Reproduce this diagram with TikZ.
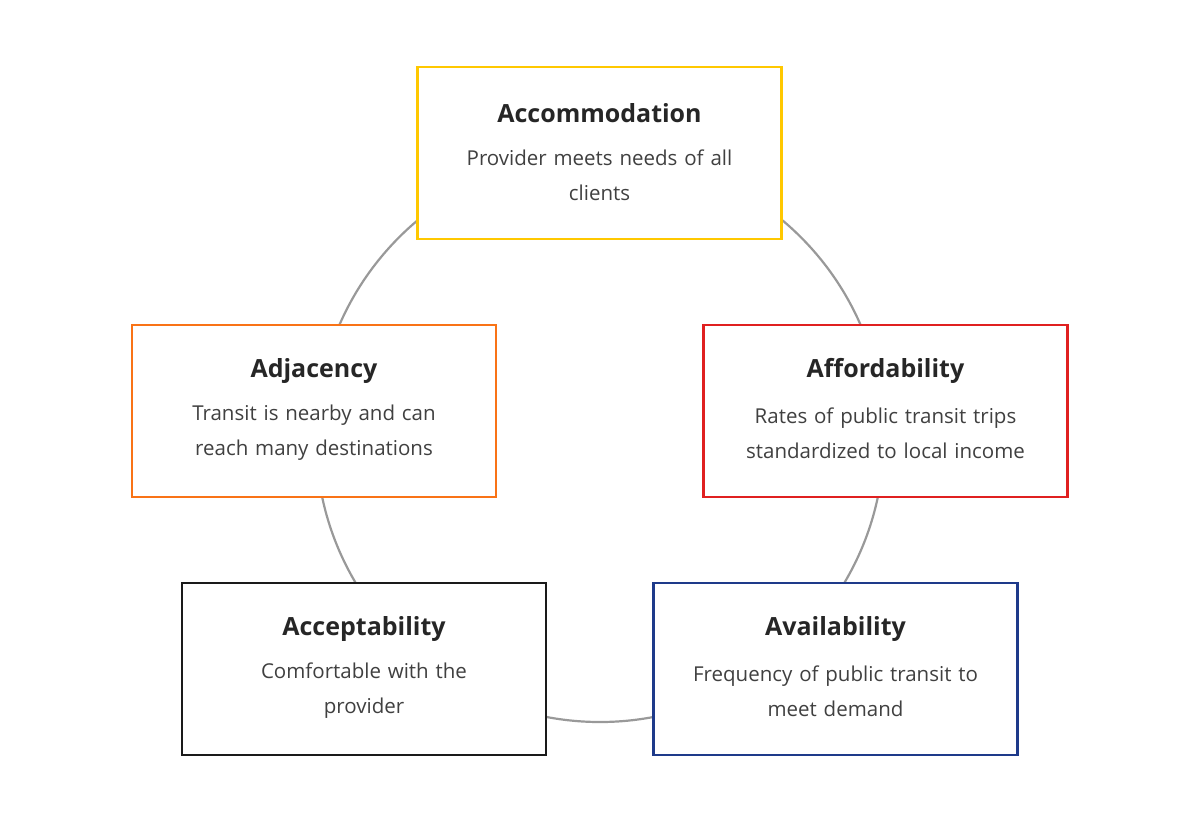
\documentclass[tikz,border=0pt]{standalone}
\usepackage{fontspec}
\setmainfont{Open Sans}
\begin{document}
\begin{tikzpicture}[x=1pt,y=-1pt,
  box/.style={draw, line width=2.2pt, fill=white, minimum width=364pt, minimum height=172pt, inner sep=0pt},
  ttl/.style={font=\fontsize{25}{28}\selectfont\bfseries, text=black!85},
  txt/.style={font=\fontsize{20.5}{35}\selectfont, text=black!75, align=center, text width=330pt}]
\useasboundingbox (0,0) rectangle (1200,823);
\draw[line width=2.2pt, gray!80] (600,438) circle[radius=284];
\definecolor{cy}{HTML}{FFC800}\definecolor{co}{HTML}{F97316}\definecolor{cr}{HTML}{E02020}
\definecolor{cb}{HTML}{1E3A8A}\definecolor{ck}{HTML}{1A1A1A}
\node[box, draw=cy] (acc) at (599.5,153) {};
\node[box, draw=co] (adj) at (314,411) {};
\node[box, draw=cr] (aff) at (885.5,411) {};
\node[box, draw=ck] (acp) at (364,669) {};
\node[box, draw=cb] (ava) at (835.5,669) {};
\foreach \n/\t/\a/\b in {acc/Accommodation/Provider meets needs of all/clients,
  adj/Adjacency/Transit is nearby and can/reach many destinations,
  aff/Affordability/Rates of public transit trips/standardized to local income,
  acp/Acceptability/Comfortable with the/provider,
  ava/Availability/Frequency of public transit to/meet demand}{
  \node[ttl] (\n-t) at ([yshift=40pt]\n.center) {\t};
  \node[txt] (\n-d) at ([yshift=-22pt]\n.center) {\a\\\b};
}
\end{tikzpicture}
\end{document}
